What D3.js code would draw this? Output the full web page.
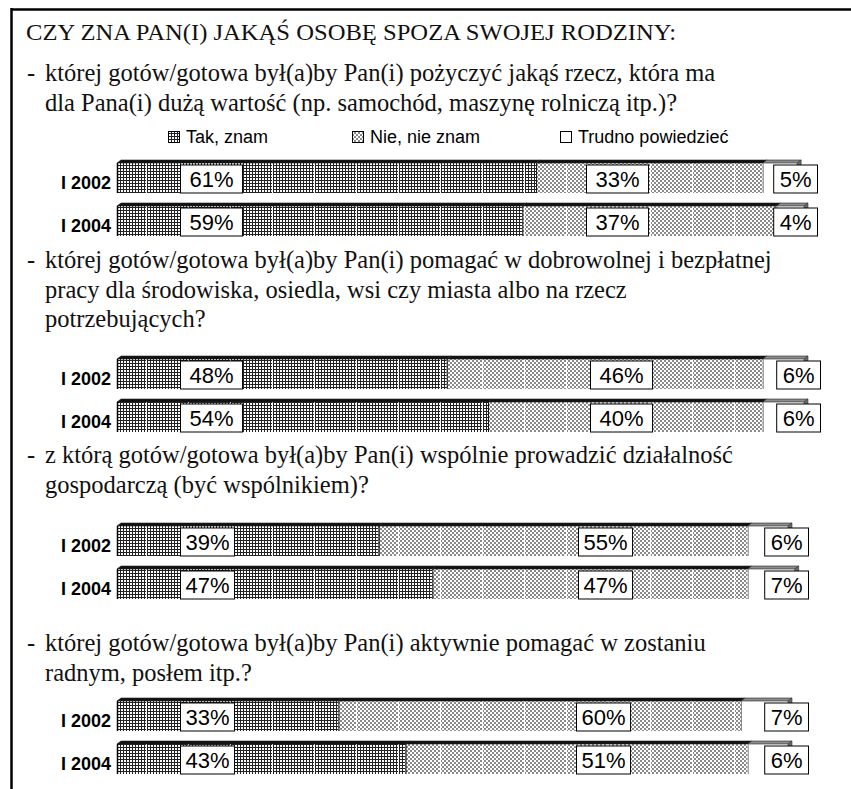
<!DOCTYPE html>
<html lang="pl">
<head>
<meta charset="UTF-8">
<title>Czy zna Pan(i) jakąś osobę spoza swojej rodziny</title>
<script src="https://d3js.org/d3.v7.min.js"></script>
<style>
  body { margin: 0; background: #fff; }
  svg { display: block; }
  .serif { font-family: "Liberation Serif", "Times New Roman", serif; fill: #111; }
  .sans { font-family: "Liberation Sans", Arial, sans-serif; fill: #000; }
</style>
</head>
<body>
<svg width="851" height="789"></svg>
<script>
const title = "CZY ZNA PAN(I) JAKĄŚ OSOBĘ SPOZA SWOJEJ RODZINY:";
const questions = [
  ["której gotów/gotowa był(a)by Pan(i) pożyczyć jakąś rzecz, która ma",
   "dla Pana(i) dużą wartość (np. samochód, maszynę rolniczą itp.)?"],
  ["której gotów/gotowa był(a)by Pan(i) pomagać w dobrowolnej i bezpłatnej",
   "pracy dla środowiska, osiedla, wsi czy miasta albo na rzecz",
   "potrzebujących?"],
  ["z którą gotów/gotowa był(a)by Pan(i) wspólnie prowadzić działalność",
   "gospodarczą (być wspólnikiem)?"],
  ["której gotów/gotowa był(a)by Pan(i) aktywnie pomagać w zostaniu",
   "radnym, posłem itp.?"]
];
const years = ["I 2002", "I 2004"];
const seriesNames = ["Tak, znam", "Nie, nie znam", "Trudno powiedzieć"];
// per question: [I 2002, I 2004]
const tak = [[61, 59], [48, 54], [39, 47], [33, 43]];
const nie = [[33, 37], [46, 40], [55, 47], [60, 51]];
const trudno = [[5, 4], [6, 6], [6, 7], [7, 6]];

// layout of each block
const blocks = [
  { textY: 81, barY: 160, xEnd: 804, takX: 180, nieX: 586, trRight: 817 },
  { textY: 268, barY: 356, xEnd: 804, takX: 180, nieX: 590, trRight: 820 },
  { textY: 463, barY: 523, xEnd: 788, takX: 180, nieX: 578, trRight: 808 },
  { textY: 651, barY: 698, xEnd: 788, takX: 180, nieX: 576, trRight: 808 }
];
const lineH = 29.5, x0 = 117, depth = 4, topH = 3;

const svg = d3.select("svg");
const defs = svg.append("defs");

const pTak = defs.append("pattern").attr("id", "pTak")
  .attr("patternUnits", "userSpaceOnUse").attr("width", 3).attr("height", 3);
pTak.append("rect").attr("width", 3).attr("height", 3).attr("fill", "#fff");
pTak.append("rect").attr("width", 3).attr("height", 1).attr("fill", "#222");
pTak.append("rect").attr("width", 1).attr("height", 3).attr("fill", "#222");

const pNie = defs.append("pattern").attr("id", "pNie")
  .attr("patternUnits", "userSpaceOnUse").attr("width", 4).attr("height", 4);
pNie.append("rect").attr("width", 4).attr("height", 4).attr("fill", "#fff");
pNie.append("rect").attr("width", 2).attr("height", 2).attr("fill", "#8a8a8a");
pNie.append("rect").attr("x", 2).attr("y", 2).attr("width", 2).attr("height", 2).attr("fill", "#8a8a8a");

const pStripe = defs.append("pattern").attr("id", "pStripe")
  .attr("patternUnits", "userSpaceOnUse").attr("width", 42).attr("height", 4);
pStripe.append("rect").attr("x", 20).attr("width", 1).attr("height", 4).attr("fill", "#fff");

const fills = ["url(#pTak)", "url(#pNie)", "#fff"];
const topFills = ["#111", "#111", "#8c8c8c"];

// frame
svg.append("line").attr("x1", 11).attr("x2", 851).attr("y1", 9.5).attr("y2", 9.5)
  .attr("stroke", "#000").attr("stroke-width", 2.5);
svg.append("line").attr("x1", 11.5).attr("x2", 11.5).attr("y1", 8).attr("y2", 789)
  .attr("stroke", "#000").attr("stroke-width", 2.5);

svg.append("text").attr("class", "serif").attr("x", 26).attr("y", 40)
  .attr("font-size", 24).attr("textLength", 650).attr("lengthAdjust", "spacingAndGlyphs")
  .text(title);

// legend
const legendX = [168, 352, 560];
const lg = svg.append("g").selectAll("g").data(seriesNames).enter().append("g")
  .attr("transform", (d, i) => `translate(${legendX[i]},130)`);
lg.append("rect").attr("x", 0.5).attr("y", 1.5).attr("width", 11).attr("height", 11)
  .attr("fill", (d, i) => fills[i]).attr("stroke", "#000").attr("stroke-width", 1);
lg.append("text").attr("class", "sans").attr("x", 18).attr("y", 13)
  .attr("font-size", 18).text(d => d);

blocks.forEach((b, qi) => {
  const g = svg.append("g");

  // question text
  questions[qi].forEach((line, li) => {
    if (li === 0) {
      g.append("text").attr("class", "serif").attr("x", 27).attr("y", b.textY)
        .attr("font-size", 24.5).text("-");
    }
    g.append("text").attr("class", "serif").attr("x", 45).attr("y", b.textY + li * lineH)
      .attr("font-size", 24.5).text(line);
  });

  const x = d3.scaleLinear().domain([0, 100]).range([x0, b.xEnd]);
  const y = d3.scaleBand().domain(years).range([b.barY, b.barY + 76])
    .paddingInner(0.233).paddingOuter(0);

  years.forEach((yr, yi) => {
    const vals = [tak[qi][yi], nie[qi][yi], trudno[qi][yi]];
    let acc = 0;
    const segs = vals.map((v, si) => {
      const s = { si, v, a: acc, b: acc + v };
      acc += v;
      return s;
    });
    const top = y(yr), fy = top + topH, fh = y.bandwidth() - topH;

    const bar = g.append("g");
    segs.forEach(s => {
      const xa = x(s.a), xb = x(s.b);
      bar.append("rect").attr("x", xa).attr("y", fy).attr("width", xb - xa).attr("height", fh)
        .attr("fill", fills[s.si]);
      if (s.si < 2) {
        bar.append("rect").attr("x", xa).attr("y", fy).attr("width", xb - xa).attr("height", fh)
          .attr("fill", "url(#pStripe)");
      }
      // 3D top face
      bar.append("path")
        .attr("d", `M${xa},${fy} L${xb},${fy} L${xb + depth},${top} L${xa + depth},${top} Z`)
        .attr("fill", topFills[s.si]).attr("stroke", "#222").attr("stroke-width", 0.6);
      if (s.si > 0) {
        bar.append("line").attr("x1", xa + 0.5).attr("x2", xa + 0.5).attr("y1", fy).attr("y2", fy + fh)
          .attr("stroke", s.si === 1 ? "#111" : "#888").attr("stroke-width", 1);
      }
    });
    // right side face
    const xr = x(acc);
    bar.append("path")
      .attr("d", `M${xr},${fy} L${xr + depth},${top} L${xr + depth},${fy + fh - topH} L${xr},${fy + fh} Z`)
      .attr("fill", "#6a6a6a").attr("stroke", "#333").attr("stroke-width", 0.6);
    bar.append("line").attr("x1", x0 + 0.5).attr("x2", x0 + 0.5).attr("y1", fy).attr("y2", fy + fh)
      .attr("stroke", "#000").attr("stroke-width", 1.5);

    // year label
    g.append("text").attr("class", "sans").attr("x", 111).attr("y", fy + fh - 4)
      .attr("text-anchor", "end").attr("font-size", 18).attr("font-weight", "bold").text(yr);

    // value labels
    const cy = fy + fh / 2 + 1;
    segs.forEach(s => {
      const lab = g.append("g");
      const t = lab.append("text").attr("class", "sans").attr("font-size", 22)
        .attr("y", cy + 8).text(s.v + "%");
      const w = t.node().getComputedTextLength();
      const pad = s.si === 2 ? 6 : (qi < 2 ? 9 : 5);
      const bw = w + 2 * pad;
      let bx;
      if (s.si === 0) bx = b.takX;
      else if (s.si === 1) bx = b.nieX;
      else bx = b.trRight - bw;
      lab.insert("rect", "text").attr("x", bx + 0.5).attr("y", cy - 14)
        .attr("width", bw).attr("height", 28)
        .attr("fill", "#fff").attr("stroke", "#000").attr("stroke-width", 1);
      t.attr("x", bx + pad + 0.5);
    });
  });
});
</script>
</body>
</html>
